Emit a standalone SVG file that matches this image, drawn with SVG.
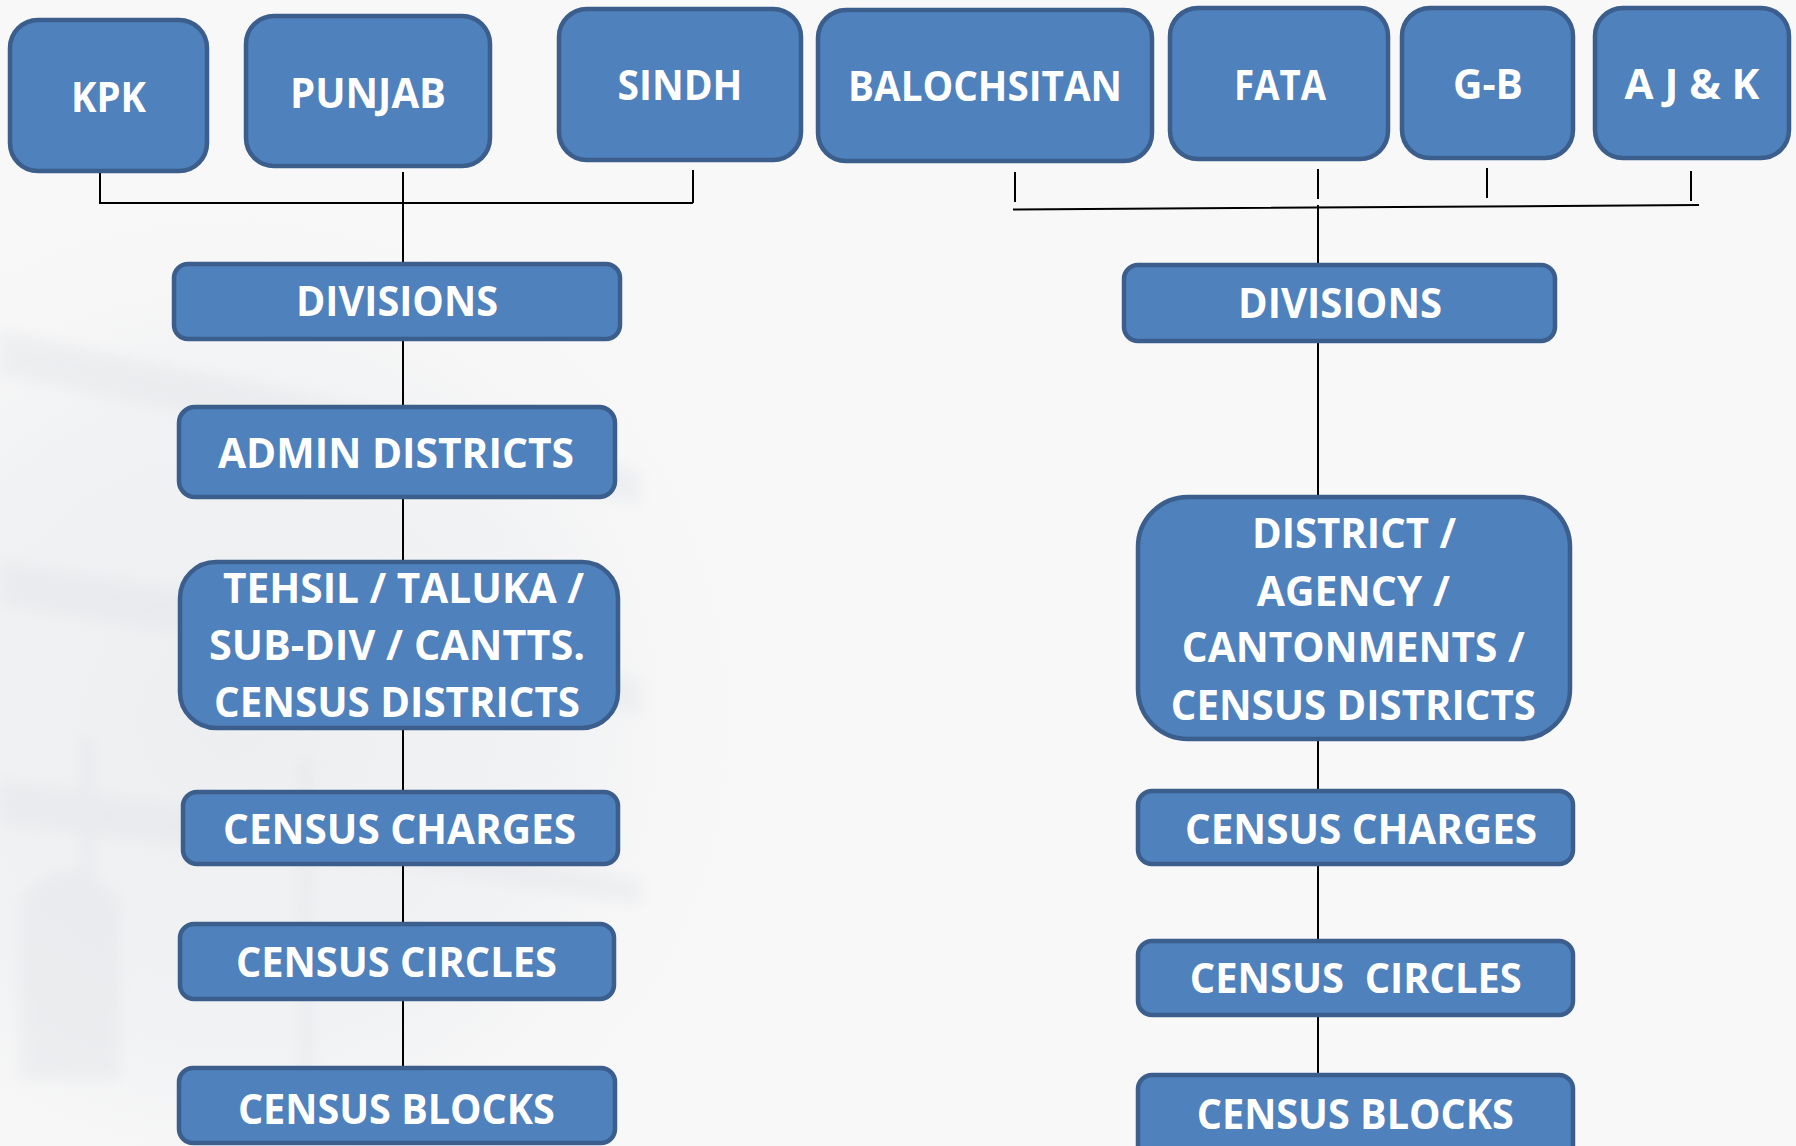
<svg xmlns="http://www.w3.org/2000/svg" width="1796" height="1146" viewBox="0 0 1796 1146">
<defs>
<style>
.box{fill:#4f81bd;stroke:#3b5e8c;stroke-width:4.5}
.t{font-family:"Open Sans","Liberation Sans",sans-serif;font-weight:700;font-size:42px;fill:#ffffff;text-anchor:middle}
.c{stroke:#000000;stroke-width:2;fill:none}
.bg{fill:#dfe1e5}
</style>
<radialGradient id="bgg" cx="230" cy="720" r="560" gradientUnits="userSpaceOnUse">
<stop offset="0" stop-color="#eceef0" stop-opacity="1"/>
<stop offset="0.6" stop-color="#f0f1f3" stop-opacity="0.8"/>
<stop offset="1" stop-color="#f8f8f8" stop-opacity="0"/>
</radialGradient>
<filter id="soft" x="-10%" y="-10%" width="120%" height="120%"><feGaussianBlur stdDeviation="7"/></filter>
</defs>
<rect x="0" y="0" width="1796" height="1146" fill="#f8f8f8"/>
<rect x="0" y="0" width="1796" height="1146" fill="url(#bgg)"/>
<g id="background-building" opacity="0.35" filter="url(#soft)">
<polygon class="bg" points="0,330 420,420 640,470 640,505 420,460 0,375"/>
<polygon class="bg" points="0,560 420,630 640,680 640,715 420,670 0,605"/>
<polygon class="bg" points="0,780 420,840 640,880 640,905 420,870 0,825"/>
<rect class="bg" x="80" y="740" width="14" height="330"/>
<rect class="bg" x="300" y="760" width="12" height="320"/>
<path class="bg" d="M20,1080 L20,900 Q70,840 120,900 L120,1080 Z"/>
</g>
<g id="connectors">
<path class="c" d="M100,172 V203 H693 M693,170 V203 M403,172 V1068"/>
<path class="c" d="M1015,172 V202 M1318,169 V199 M1487,168 V198 M1691,171 V201"/>
<path class="c" d="M1013,209.5 L1699,205 M1318,205 V1075" stroke-width="2.5"/>
</g>
<g id="node-kpk"><rect class="box" x="10" y="20" width="197" height="151" rx="28"/><text class="t" x="108.5" y="112" textLength="75" lengthAdjust="spacingAndGlyphs">KPK</text></g>
<g id="node-punjab"><rect class="box" x="246" y="16" width="244" height="150" rx="28"/><text class="t" x="368" y="108" textLength="156" lengthAdjust="spacingAndGlyphs">PUNJAB</text></g>
<g id="node-sindh"><rect class="box" x="559" y="9" width="242" height="151" rx="28"/><text class="t" x="680" y="100" textLength="125" lengthAdjust="spacingAndGlyphs">SINDH</text></g>
<g id="node-balochistan"><rect class="box" x="818" y="10" width="334" height="151" rx="28"/><text class="t" x="985" y="101" textLength="274" lengthAdjust="spacingAndGlyphs">BALOCHSITAN</text></g>
<g id="node-fata"><rect class="box" x="1170" y="8" width="218" height="151" rx="28"/><text class="t" x="1280" y="100" textLength="92" lengthAdjust="spacingAndGlyphs">FATA</text></g>
<g id="node-gb"><rect class="box" x="1402" y="8" width="171" height="150" rx="28"/><text class="t" x="1488" y="99" textLength="70" lengthAdjust="spacingAndGlyphs">G-B</text></g>
<g id="node-ajk"><rect class="box" x="1595" y="8" width="194" height="150" rx="28"/><text class="t" x="1692" y="99" textLength="135" lengthAdjust="spacingAndGlyphs">A J &amp; K</text></g>

<g id="node-divisions-left"><rect class="box" x="174" y="264" width="446" height="75" rx="14"/><text class="t" x="397" y="316" textLength="202" lengthAdjust="spacingAndGlyphs">DIVISIONS</text></g>
<g id="node-admin-districts"><rect class="box" x="179" y="407" width="436" height="90" rx="16"/><text class="t" x="396" y="468" textLength="356" lengthAdjust="spacingAndGlyphs">ADMIN DISTRICTS</text></g>
<g id="node-tehsil"><rect class="box" x="180" y="562" width="438" height="166" rx="36"/>
<text class="t" x="403.6" y="603" textLength="361" lengthAdjust="spacingAndGlyphs">TEHSIL / TALUKA /</text>
<text class="t" x="397" y="660" textLength="376" lengthAdjust="spacingAndGlyphs">SUB-DIV / CANTTS.</text>
<text class="t" x="397" y="717" textLength="366" lengthAdjust="spacingAndGlyphs">CENSUS DISTRICTS</text></g>
<g id="node-charges-left"><rect class="box" x="183" y="792" width="435" height="72" rx="14"/><text class="t" x="399.6" y="844" textLength="353" lengthAdjust="spacingAndGlyphs">CENSUS CHARGES</text></g>
<g id="node-circles-left"><rect class="box" x="180" y="924" width="434" height="75" rx="14"/><text class="t" x="396.4" y="977" textLength="321" lengthAdjust="spacingAndGlyphs">CENSUS CIRCLES</text></g>
<g id="node-blocks-left"><rect class="box" x="179" y="1068" width="436" height="75" rx="14"/><text class="t" x="396.4" y="1124" textLength="317" lengthAdjust="spacingAndGlyphs">CENSUS BLOCKS</text></g>

<g id="node-divisions-right"><rect class="box" x="1124" y="265" width="431" height="76" rx="14"/><text class="t" x="1340" y="318" textLength="204" lengthAdjust="spacingAndGlyphs">DIVISIONS</text></g>
<g id="node-district-agency"><rect class="box" x="1138" y="497" width="432" height="242" rx="50"/>
<text class="t" x="1354" y="548" textLength="204" lengthAdjust="spacingAndGlyphs">DISTRICT /</text>
<text class="t" x="1353.3" y="605.5" textLength="193" lengthAdjust="spacingAndGlyphs">AGENCY /</text>
<text class="t" x="1353.3" y="662" textLength="343" lengthAdjust="spacingAndGlyphs">CANTONMENTS /</text>
<text class="t" x="1353.3" y="720" textLength="365" lengthAdjust="spacingAndGlyphs">CENSUS DISTRICTS</text></g>
<g id="node-charges-right"><rect class="box" x="1138" y="791" width="435" height="73" rx="14"/><text class="t" x="1361" y="844" textLength="352" lengthAdjust="spacingAndGlyphs">CENSUS CHARGES</text></g>
<g id="node-circles-right"><rect class="box" x="1138" y="941" width="435" height="74" rx="14"/><text class="t" x="1355.8" y="993" textLength="332" lengthAdjust="spacingAndGlyphs" xml:space="preserve">CENSUS  CIRCLES</text></g>
<g id="node-blocks-right"><rect class="box" x="1138" y="1075" width="435" height="90" rx="14"/><text class="t" x="1355.3" y="1129" textLength="317" lengthAdjust="spacingAndGlyphs">CENSUS BLOCKS</text></g>
</svg>
